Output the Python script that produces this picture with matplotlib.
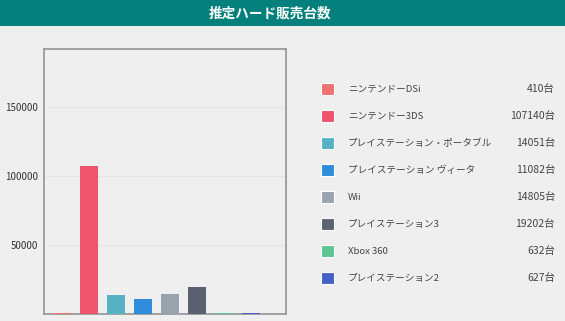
import matplotlib
matplotlib.use('Agg')
import matplotlib.pyplot as plt
from matplotlib.patches import Rectangle

plt.rcParams['font.family'] = ['Noto Sans CJK JP', 'DejaVu Sans']

labels = ['ニンテンドーDSi', 'ニンテンドー3DS', 'プレイステーション・ポータブル',
          'プレイステーション ヴィータ', 'Wii', 'プレイステーション3',
          'Xbox 360', 'プレイステーション2']
values = [410, 107140, 14051, 11082, 14805, 19202, 632, 627]
colors = ['#f07272', '#f0536e', '#56b2c4', '#2f8ddc', '#98a3ae',
          '#5a6272', '#5ec494', '#4461c4']
yticks = [50000, 100000, 150000]

W, H = 565, 321
fig = plt.figure(figsize=(W / 100, H / 100), dpi=100)
fig.patch.set_facecolor('#efefef')

# header bar
fig.patches.append(Rectangle((0, 1 - 26 / H), 1, 26 / H, transform=fig.transFigure,
                             facecolor='#037f7c', edgecolor='none', zorder=0))
fig.text(270 / W, 1 - 13 / H, '推定ハード販売台数', color='white', fontsize=9.8,
         fontweight='bold', ha='center', va='center')

ax = fig.add_axes([44 / W, 1 - 314 / H, (286 - 44) / W, (314 - 49) / H])
ax.set_facecolor('#efefef')
x = list(range(len(values)))
ax.bar(x, values, width=0.67, color=colors, zorder=3)
ax.set_xlim(-0.67, 8.3)
ax.set_ylim(0, 192000)
ax.set_yticks(yticks)
ax.set_yticklabels([str(v) for v in yticks], fontsize=7, color='#333333')
ax.set_xticks([])
ax.tick_params(axis='y', length=0, pad=4)
ax.grid(axis='y', color='#e4e4e4', linewidth=0.8, zorder=0)
for s in ax.spines.values():
    s.set_color('#9a9a9a')
    s.set_linewidth(1.3)

# legend
y0, dy = 89, 27
for i, (lab, val, col) in enumerate(zip(labels, values, colors)):
    yc = y0 + i * dy
    fig.patches.append(Rectangle((321 / W, 1 - (yc + 6) / H), 13 / W, 12 / H,
                                 transform=fig.transFigure, facecolor=col,
                                 edgecolor='white', linewidth=0.8))
    fig.text(348 / W, 1 - yc / H, lab, fontsize=6.9, color='#444444',
             ha='left', va='center')
    fig.text(555 / W, 1 - yc / H, f'{val}台', fontsize=7.5, color='#444444',
             ha='right', va='center')

fig.savefig('out.png', dpi=100, facecolor=fig.get_facecolor())
